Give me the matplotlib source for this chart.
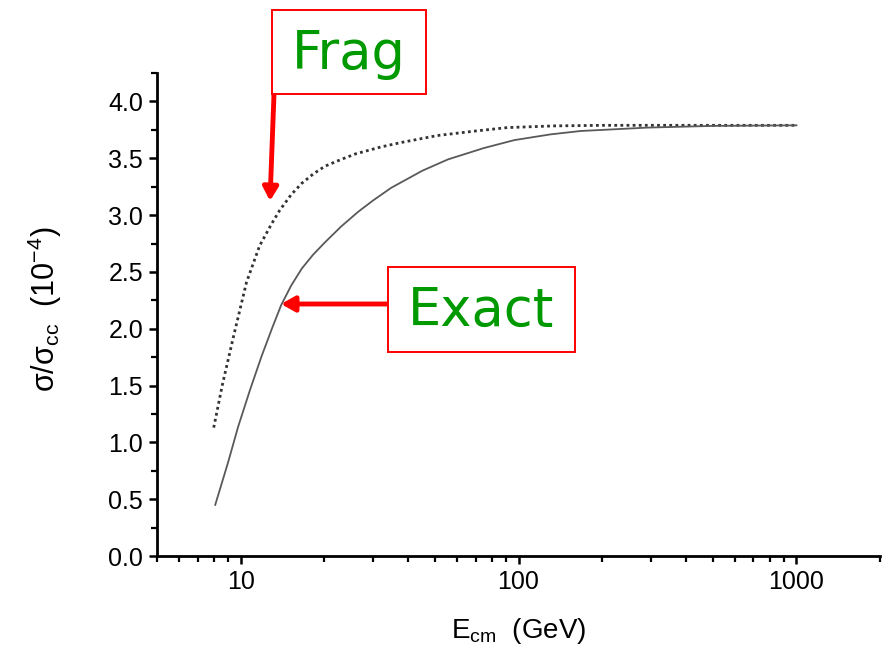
import matplotlib
matplotlib.use('Agg')
import matplotlib.pyplot as plt
import matplotlib.patches as patches
from matplotlib.ticker import LogLocator, FixedLocator, MultipleLocator, NullFormatter, FuncFormatter

# --- data ---
frag_x = [8.0, 8.6, 9.4, 10.5, 11.7, 12.9, 13.8, 15.2, 16.6, 18.2, 20.1, 23, 26, 32, 38, 51, 70, 91, 134, 200, 400, 1000]
frag_y = [1.13, 1.51, 1.92, 2.41, 2.73, 2.92, 3.04, 3.18, 3.28, 3.36, 3.43, 3.49, 3.54, 3.60, 3.64, 3.70, 3.74,
          3.77, 3.785, 3.79, 3.79, 3.79]

exact_x = [8.1, 9.0, 9.8, 10.8, 11.9, 13.0, 14.0, 15.2, 16.6, 18.2, 20.1, 23, 26.5, 30, 34.8, 45, 55.7,
           75, 96.6, 130, 167, 291, 500, 1000]
exact_y = [0.45, 0.82, 1.14, 1.46, 1.76, 2.01, 2.21, 2.38, 2.53, 2.65, 2.76, 2.90, 3.03, 3.13, 3.24, 3.39, 3.49,
           3.59, 3.66, 3.71, 3.74, 3.77, 3.785, 3.79]

x_major = [10, 100, 1000]

plt.rcParams['font.family'] = ['Liberation Sans', 'DejaVu Sans']

fig = plt.figure(figsize=(8.84, 6.54), dpi=100)
ax = fig.add_axes([0.1776, 0.1498, 0.818, 0.7385])

ax.plot(frag_x, frag_y, color='0.2', lw=2.0, linestyle=(0, (1, 1.2)))
ax.plot(exact_x, exact_y, color='0.35', lw=1.3)

ax.set_xscale('log')
ax.set_xlim(5, 2000)
ax.set_ylim(0, 4.25)

ax.xaxis.set_major_locator(FixedLocator(x_major))
ax.xaxis.set_major_formatter(FuncFormatter(lambda v, p: f'{v:g}'))
ax.xaxis.set_minor_locator(LogLocator(base=10, subs=range(2, 10)))
ax.xaxis.set_minor_formatter(NullFormatter())
ax.yaxis.set_major_locator(MultipleLocator(0.5))
ax.yaxis.set_minor_locator(MultipleLocator(0.25))
ax.yaxis.set_major_formatter(FuncFormatter(lambda v, p: f'{v:.1f}'))

for s in ['top', 'right']:
    ax.spines[s].set_visible(False)
for s in ['left', 'bottom']:
    ax.spines[s].set_linewidth(2.0)
ax.tick_params(which='major', direction='out', length=6, width=1.8, labelsize=18, pad=4)
ax.tick_params(which='minor', direction='out', length=4, width=1.6)

ax.set_xlabel(r'E$_{\mathregular{cm}}$  (GeV)', fontsize=20)
ax.set_ylabel(r'$\mathregular{\sigma/\sigma_{cc}}$  (10$^{\mathregular{-4}}$)', fontsize=22)
ax.xaxis.set_label_coords(0.5, -0.125)
ax.yaxis.set_label_coords(-0.128, 0.51)

# callout boxes (figure pixel layout)
green = '#009900'
W, H = 884, 654
for (x0, y0, x1, y1) in [(272, 10, 426, 94), (388, 267, 575, 352)]:
    fig.patches.append(patches.Rectangle((x0 / W, 1 - y1 / H), (x1 - x0) / W, (y1 - y0) / H,
                                         transform=fig.transFigure, facecolor='white',
                                         edgecolor='red', lw=1.4, zorder=3))
fig.text(349 / W, 1 - 54 / H, 'Frag', fontsize=38, color=green, ha='center', va='center',
         family='DejaVu Sans', zorder=4)
fig.text(481 / W, 1 - 311 / H, 'Exact', fontsize=38, color=green, ha='center', va='center',
         family='DejaVu Sans', zorder=4)

arrow = dict(arrowstyle='-|>,head_width=0.45,head_length=0.8', color='red', lw=3.5, shrinkA=0, shrinkB=0)
ax.annotate('', xy=(270 / W, 1 - 201 / H), xycoords='figure fraction',
            xytext=(274 / W, 1 - 94 / H), textcoords='figure fraction', arrowprops=arrow)
ax.annotate('', xy=(281 / W, 1 - 304 / H), xycoords='figure fraction',
            xytext=(388 / W, 1 - 304 / H), textcoords='figure fraction', arrowprops=arrow)

fig.savefig('out.png', dpi=100)
